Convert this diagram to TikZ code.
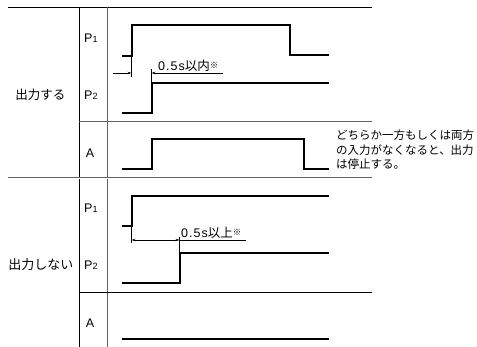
\documentclass[tikz,border=0pt]{standalone}
\usepackage{fontspec}
\setmainfont{Noto Sans CJK JP}
\newfontfamily\lat{Liberation Sans}
\newfontfamily\latsp[LetterSpace=8]{Liberation Sans}
\usetikzlibrary{arrows.meta}
\tikzset{
  frame/.style={line width=0.8pt, draw=black},
  gframe/.style={line width=0.8pt, draw=gray!75!black},
  sig/.style={line width=1.7pt, draw=black, line cap=butt, line join=miter},
  ext/.style={line width=0.5pt, draw=black},
  dim/.style={line width=0.6pt, draw=black},
  tip/.style={-{Stealth[length=4pt,width=2.6pt]}},
  tips/.style={{Stealth[length=4pt,width=2.6pt]}-{Stealth[length=4pt,width=2.6pt]}},
  lbl/.style={inner sep=0pt, font=\fontsize{12.5}{12.5}\selectfont},
  note/.style={inner sep=0pt, anchor=north west, align=left, font=\fontsize{11.5}{14.5}\selectfont},
  dimtext/.style={inner sep=0pt, anchor=base west, font=\fontsize{12.5}{12.5}\selectfont}
}
\newcommand{\Psub}[1]{{\lat\fontsize{12.5}{12.5}\selectfont P}{\lat\fontsize{9}{9}\selectfont #1}}
\newcommand{\kome}{\raisebox{2.5pt}{\fontsize{8.5}{8.5}\selectfont ※}}
\newcommand{\halfs}{{\latsp\fontsize{12.5}{12.5}\selectfont 0.5s}}
\begin{document}
\begin{tikzpicture}[x=1pt,y=-1pt]
\useasboundingbox (0,0) rectangle (477,347);
% table frame
\draw[frame] (8,7) -- (372,7);
\draw[frame] (79,7) -- (79,347);
\draw[gframe] (107,7) -- (107,347);
\draw[gframe] (79,121) -- (372,121);
\draw[gframe, double=white, double distance=0.9pt, line width=0.7pt] (8,178) -- (372,178);
\draw[frame] (79,292) -- (372,292);
% labels
\node[lbl] (s1) at (40.5,95) {出力する};
\node[lbl, font=\fontsize{13}{13}\selectfont] (s2) at (41,265) {出力しない};
\node[lbl, anchor=base west] (p1a) at (84,43) {\Psub{1}};
\node[lbl, anchor=base west] (p2a) at (84,100) {\Psub{2}};
\node[lbl, font=\lat\fontsize{12.5}{12.5}\selectfont] (aa) at (90,153.5) {A};
\node[lbl, anchor=base west] (p1b) at (84,213) {\Psub{1}};
\node[lbl, anchor=base west] (p2b) at (84,270) {\Psub{2}};
\node[lbl, font=\lat\fontsize{12.5}{12.5}\selectfont] (ab) at (90,323.5) {A};
\node[note] (nt) at (336,130) {どちらか一方もしくは両方\\の入力がなくなると、出力\\は停止する。};
% section 1 signals
\draw[sig] (122,56) -- (132,56) -- (132,25) -- (290,25) -- (290,55) -- (329,55);
\draw[sig] (122,113) -- (152,113) -- (152,83) -- (329,83);
\draw[sig] (122,169) -- (152,169) -- (152,139) -- (304,139) -- (304,169) -- (329,169);
% section 1 dimension
\coordinate (e1t) at (131.5,56);
\coordinate (e1b) at (131.5,77);
\coordinate (e2t) at (151.5,69);
\coordinate (e2b) at (151.5,83);
\draw[ext] (e1t) -- (e1b);
\draw[ext] (e2b) -- (e2t);
\coordinate (d1l) at (113,73);
\coordinate (d1a) at (131.5,73);
\coordinate (d1b) at (151.5,73);
\coordinate (d1r) at (223,73);
\draw[dim, tip] (d1l) -- (d1a);
\draw[dim, tip] (d1r) -- (d1b);
\node[dimtext] (t1) at (158,71) {\halfs 以内\kome};
% section 2 signals
\draw[sig] (122,226) -- (132,226) -- (132,196) -- (329,196);
\draw[sig] (122,283) -- (180,283) -- (180,253) -- (329,253);
\draw[sig] (122,339) -- (329,339);
% section 2 dimension
\coordinate (f1t) at (131.5,226);
\coordinate (f1b) at (131.5,243);
\coordinate (f2t) at (179.5,237);
\coordinate (f2b) at (179.5,253);
\draw[ext] (f1t) -- (f1b);
\draw[ext] (f2b) -- (f2t);
\coordinate (g1) at (131.5,240);
\coordinate (g2) at (179.5,240);
\coordinate (g3) at (246,240);
\draw[dim, tips] (g1) -- (g2);
\draw[dim] (g2) -- (g3);
\node[dimtext] (t2) at (181,238) {\halfs 以上\kome};
\end{tikzpicture}
\end{document}
